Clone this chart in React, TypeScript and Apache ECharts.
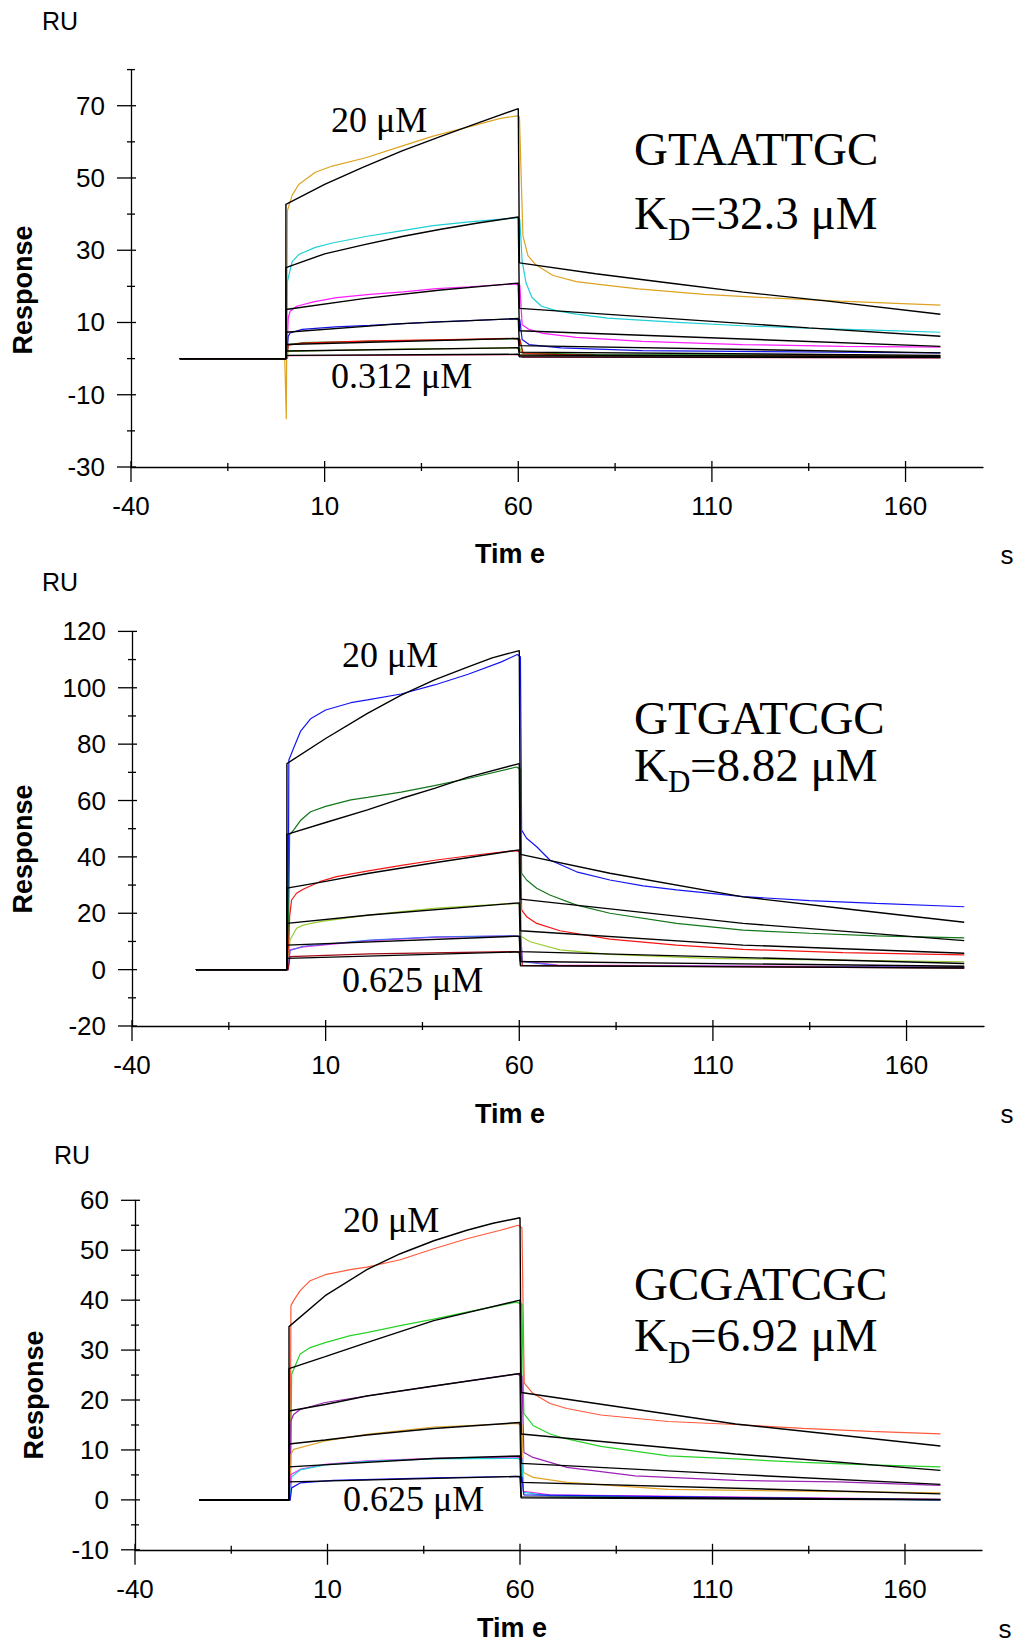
import React, { useEffect, useRef } from "react";
import * as echarts from "echarts";

type Pt = [number, number];

// ---------- tick / label values ----------
const xMajorTicks = [-40, 10, 60, 110, 160];
const xMinorTicks = [-15, 35, 85, 135];
const p1YMajor = [-30, -10, 10, 30, 50, 70];
const p1YMinor = [-20, 0, 20, 40, 60, 80];
const p2YMajor = [-20, 0, 20, 40, 60, 80, 100, 120];
const p2YMinor = [-10, 10, 30, 50, 70, 90, 110];
const p3YMajor = [-10, 0, 10, 20, 30, 40, 50, 60];
const p3YMinor = [-5, 5, 15, 25, 35, 45, 55];

// ---------- panel 1 : GTAATTGC ----------
const p1Orange20: Pt[] = [[-27.4,0],[-0.3,0],[0.1,-16.8],[0.4,41],[1.6,45.2],[3.3,48.2],[7.6,51.6],[12,53.3],[20.6,55.6],[29.3,58.6],[38,61.6],[46.7,64],[55.4,66.5],[59.8,67.2],[60.3,67],[61.2,34],[62.5,28.5],[64.5,26],[69,23],[75,21.3],[83,20.3],[91,19.3],[108,17.8],[125,16.8],[143,15.9],[169,14.8]];
const p1Fit20: Pt[] = [[-27.4,0],[0,0],[0,42.7],[10,48.2],[20,53],[30,57.5],[40,61.5],[50,65.4],[60,69.2],[60.3,26.5],[80,23.5],[100,20.8],[118,18.4],[140,15.9],[169,12.3]];
const p1Cyan10: Pt[] = [[-27.4,0],[0.2,0],[0.4,21.4],[1.6,26.8],[3.3,28.8],[7.6,30.8],[12,32],[20.6,33.8],[29.3,35.3],[38,36.8],[46.7,37.8],[59.8,39],[60.4,38.5],[61,27],[62,21],[63.5,17],[66,14.5],[70,13.2],[75,12.3],[83,11.2],[100,10.1],[118,9.1],[135,8.4],[152,7.9],[169,7.3]];
const p1Fit10: Pt[] = [[-27.4,0],[0,0],[0,25.2],[10,29],[20,31.5],[30,33.8],[40,35.8],[50,37.6],[60,39.2],[60.3,13.9],[135,8.5],[169,6.2]];
const p1Magenta5: Pt[] = [[-27.4,0],[0.2,0],[0.6,11.3],[1.1,13.1],[2.8,14.5],[7.1,15.7],[13.1,16.9],[21.7,17.8],[30.3,18.5],[38.9,19.4],[47.5,19.9],[58.7,20.7],[60.4,20.3],[61,9.4],[62.7,8.1],[66.4,7],[75,5.9],[92,4.8],[118,3.9],[144,3.4],[169,3.2]];
const p1Fit5: Pt[] = [[-27.4,0],[0,0],[0,13.6],[20,16.6],[40,19],[60,20.9],[60.3,7.7],[169,3.4]];
const p1Blue25: Pt[] = [[-27.4,0],[0.2,0],[0.6,6.2],[1.1,7.1],[4.2,8.1],[12.8,8.8],[21.7,9.2],[30.3,9.7],[38.9,10.2],[47.5,10.5],[58.7,11],[60.4,10.8],[61,5.3],[62.8,3.9],[71,3],[92,2.2],[169,1.6]];
const p1Fit25: Pt[] = [[-27.4,0],[0,0],[0,7.3],[30,9.7],[60,11.1],[60.3,3.6],[169,1.6]];
const p1Green125: Pt[] = [[-27.4,0],[0.2,0],[0.6,3.9],[4.2,4.4],[21.7,4.8],[38.9,5.1],[58.7,5.5],[60.4,5.4],[61.2,1.6],[80,1.1],[169,0.8]];
const p1Red125: Pt[] = [[-27.4,0],[0.2,0],[0.6,3.7],[4.2,4.3],[21.7,4.9],[38.9,5.2],[58.7,5.6],[60.4,5.3],[61.2,1.4],[80,0.9],[169,0.6]];
const p1Fit125: Pt[] = [[-27.4,0],[0,0],[0,3.9],[60,5.6],[60.3,1.8],[169,0.9]];
const p1Lime0625: Pt[] = [[-27.4,0],[0.2,0],[0.6,2],[21.7,2.5],[58.7,3],[60.4,2.9],[61.2,0.9],[169,0.4]];
const p1Fit0625: Pt[] = [[-27.4,0],[0,0],[0,2.1],[60,3],[60.3,1],[169,0.5]];
const p1Pink0312: Pt[] = [[-27.4,0],[0.2,0],[0.6,0.8],[58.7,1.1],[60.4,1],[61.2,0.4],[169,0.2]];
const p1Fit0312: Pt[] = [[-27.4,0],[0,0],[0,0.9],[60,1.2],[60.3,0.5],[169,0.3]];

// ---------- panel 2 : GTGATCGC ----------
const p2Blue20: Pt[] = [[-23.5,0],[0.3,0],[0.5,74.4],[1.8,78.8],[3.5,84.5],[6.1,89],[10,92.1],[16.5,94.7],[20.8,95.7],[29.5,97.8],[38.1,101],[46.8,104.8],[55.4,109.2],[59.5,111.8],[60.3,111],[60.6,49.5],[61.9,46.6],[64.5,43.6],[67.9,38.9],[74.8,34.7],[83.4,31.8],[92,29.7],[100.6,28.3],[117.8,25.9],[135,24.5],[152.2,23.5],[174.9,22.3]];
const p2Fit20: Pt[] = [[-23.5,0],[0,0],[0,73.1],[10,82],[20.8,90.9],[29.5,97.4],[38.1,102.8],[46.8,107.4],[53,110.6],[60,113.2],[60.3,40.9],[83.4,34.2],[117.8,25.8],[143.6,21.7],[174.9,16.8]];
const p2Green10: Pt[] = [[-23.5,0],[0.3,0],[0.7,47.8],[1.8,49.7],[3.5,52.9],[6.1,56],[10,57.9],[16.5,60.2],[20.8,61.1],[29.5,63],[38.1,65.3],[46.8,67.8],[59.3,71.9],[60.4,71],[60.6,34.2],[61.9,31.8],[64.5,28.9],[67.9,26.5],[74.8,22.9],[83.4,20],[100.6,16.4],[117.8,14],[135,12.9],[152.2,12],[174.9,11.3]];
const p2Fit10: Pt[] = [[-23.5,0],[0,0],[0,48],[10,52.2],[20.8,56.7],[29.5,60.7],[38.1,64.3],[46.8,68.3],[60,73.1],[60.3,25],[117.8,16.4],[174.9,10.3]];
const p2Red5: Pt[] = [[-23.5,0],[0.3,0],[0.7,18.8],[1.2,24.7],[2.5,27.1],[4.2,28.5],[8.5,31.2],[12.8,33],[21.4,35.1],[30,37.1],[38.6,38.9],[47.2,40.4],[58.8,42.2],[60.4,41.8],[60.6,21.2],[61.9,18.8],[64.5,16.4],[70.5,13.8],[83.4,10.8],[100.6,8.7],[117.8,7.2],[143.6,6],[174.9,5.2]];
const p2Fit5: Pt[] = [[-23.5,0],[0,0],[0,28.9],[10,31.3],[20.8,34.1],[38.1,37.9],[60,42.5],[60.3,13.8],[117.8,8.7],[174.9,5.8]];
const p2Lime25: Pt[] = [[-23.5,0],[0.3,0],[0.8,10.5],[2.5,14.7],[4.2,15.8],[8.5,17],[21.4,19.4],[38.6,21.8],[58.8,23.5],[60.4,23.2],[60.6,11.7],[62.8,9.9],[70.5,7],[83.4,5.4],[109,4],[174.9,2.8]];
const p2Fit25: Pt[] = [[-23.5,0],[0,0],[0,16.4],[21.4,19.4],[60,23.7],[60.3,6.4],[174.9,2.2]];
const p2Magenta125: Pt[] = [[-23.5,0],[0.3,0],[0.8,7],[4.2,8.1],[21.4,10.3],[38.6,11.5],[58.8,11.9],[60.4,11.6],[60.8,3],[70,1.6],[174.9,0.9]];
const p2BlueDot125: Pt[] = [[-23.5,0],[0.3,0],[0.8,6.8],[4.2,8.3],[21.4,10.5],[38.6,11.6],[58.8,12],[60.4,11.7],[60.8,2.8],[70,1.4],[174.9,0.8]];
const p2Fit125: Pt[] = [[-23.5,0],[0,0],[0,8.7],[60,11.9],[60.3,2.9],[174.9,1.2]];
const p2DarkRed0625: Pt[] = [[-23.5,0],[0.3,0],[0.8,4.6],[21.4,5.6],[58.8,6.4],[60.4,6.2],[60.8,1.5],[174.9,0.5]];
const p2Fit0625: Pt[] = [[-23.5,0],[0,0],[0,4],[60,6.3],[60.3,1.4],[174.9,0.6]];

// ---------- panel 3 : GCGATCGC ----------
const p3Red20: Pt[] = [[-23.3,0],[0.3,0],[0.5,38.9],[1.2,39.9],[2.9,41.9],[5.5,43.9],[9.4,45.1],[15.9,46.1],[20.2,46.6],[28.9,48.1],[37.6,50.3],[46.2,52.3],[54.9,54],[59.5,55],[60.5,54.5],[61.1,23.4],[63.4,21.3],[67.8,19.3],[72.2,18.3],[81,17],[98.5,15.7],[116,15.1],[133.5,14.3],[151,13.7],[169.2,13.2]];
const p3Fit20: Pt[] = [[-23.3,0],[0,0],[0,34.7],[9.4,40.9],[20.2,46.1],[28.9,49.3],[37.6,51.9],[46.2,54],[53,55.4],[60,56.5],[60.3,21.5],[116,15.2],[169.2,10.8]];
const p3Green10: Pt[] = [[-23.3,0],[0.3,0],[0.7,25.2],[2.9,29.2],[5.5,30.5],[9.4,31.5],[15.9,32.9],[20.2,33.5],[28.9,34.9],[37.6,36.2],[46.2,37.6],[59,39.6],[60.5,39.2],[61,17.3],[63.4,14.9],[67.8,13.2],[72.2,12.2],[81,10.7],[98.5,8.8],[116,8.2],[133.5,7.5],[151,7],[169.2,6.6]];
const p3Fit10: Pt[] = [[-23.3,0],[0,0],[0,26.3],[9.4,28.7],[20.2,31.5],[37.6,35.9],[60,40],[60.3,13.2],[116,9.2],[169.2,5.9]];
const p3Purple5: Pt[] = [[-23.3,0],[0.3,0],[0.5,15.8],[1.2,17.1],[2.9,18.1],[9.4,19.5],[20.2,20.8],[37.6,22.8],[46.2,23.8],[59,25.2],[60.5,24.8],[61,9.5],[63.4,8.5],[72.2,6.5],[89.9,4.8],[116,3.9],[142.4,3.6],[169.2,2.9]];
const p3Fit5: Pt[] = [[-23.3,0],[0,0],[0,17.8],[9.4,19.1],[20.2,20.8],[37.6,22.8],[60,25.3],[60.3,7.3],[116,5.1],[169.2,3.1]];
const p3Orange25: Pt[] = [[-23.3,0],[0.3,0],[0.5,9.1],[1.2,10.1],[9.4,11.8],[20.2,13.1],[37.6,14.6],[59,15.3],[60.5,15],[60.9,5.5],[63.4,4.5],[72.2,3.5],[98.5,2.1],[169.2,1.4]];
const p3Fit25: Pt[] = [[-23.3,0],[0,0],[0,11.2],[9.4,12],[20.2,13],[37.6,14.3],[60,15.5],[60.3,3.5],[169.2,1.2]];
const p3Magenta125: Pt[] = [[-23.3,0],[0.3,0],[0.5,5.1],[2.9,6.1],[9.4,7.1],[20.2,7.8],[37.6,8.3],[59,8.6],[60.5,8.4],[60.9,1.7],[67.8,1],[169.2,0.1]];
const p3Cyan125: Pt[] = [[-23.3,0],[0.3,0],[0.7,4.6],[2.9,6],[9.4,7],[20.2,7.7],[37.6,8.2],[59,8.3],[60.5,8.1],[60.9,1.5],[67.8,0.8],[169.2,0]];
const p3Fit125: Pt[] = [[-23.3,0],[0,0],[0,6.6],[37.6,8.3],[60,8.8],[60.3,0.6],[169.2,0.1]];
const p3Blue0625: Pt[] = [[-23.3,0],[0.3,0],[0.7,2.4],[2.9,3.4],[11.6,3.9],[37.6,4.4],[59,4.7],[60.5,4.5],[61,1],[169.2,0]];
const p3Fit0625: Pt[] = [[-23.3,0],[0,0],[0,3.6],[60,4.7],[60.3,0.4],[169.2,0]];

// ---------- styling / layout ----------
const SANS = "'Liberation Sans', Arial, Helvetica, sans-serif";
const SERIF = "'Liberation Serif', 'Times New Roman', Times, serif";
const X_MIN = -40;
const X_MAX = 180;

interface Curve { color: string; data: Pt[] }
interface Panel {
  grid: { left: number; top: number; width: number; height: number };
  yMin: number; yMax: number; yInterval: number;
  yMajor: number[]; yMinor: number[];
  measured: Curve[]; fits: Pt[][];
}

const panels: Panel[] = [
  {
    grid: { left: 131, top: 69.6, width: 852, height: 397.4 },
    yMin: -30, yMax: 80, yInterval: 20, yMajor: p1YMajor, yMinor: p1YMinor,
    measured: [
      { color: "#DDA321", data: p1Orange20 },
      { color: "#1FCFD6", data: p1Cyan10 },
      { color: "#FF1EFF", data: p1Magenta5 },
      { color: "#1414E6", data: p1Blue25 },
      { color: "#0A8A0A", data: p1Green125 },
      { color: "#F01010", data: p1Red125 },
      { color: "#84C01A", data: p1Lime0625 },
      { color: "#E0206E", data: p1Pink0312 },
    ],
    fits: [p1Fit20, p1Fit10, p1Fit5, p1Fit25, p1Fit125, p1Fit0625, p1Fit0312],
  },
  {
    grid: { left: 132, top: 631.4, width: 852, height: 394.6 },
    yMin: -20, yMax: 120, yInterval: 20, yMajor: p2YMajor, yMinor: p2YMinor,
    measured: [
      { color: "#1414F5", data: p2Blue20 },
      { color: "#12761A", data: p2Green10 },
      { color: "#F51414", data: p2Red5 },
      { color: "#9ACD32", data: p2Lime25 },
      { color: "#F028E6", data: p2Magenta125 },
      { color: "#4A6CF0", data: p2BlueDot125 },
      { color: "#A00A14", data: p2DarkRed0625 },
    ],
    fits: [p2Fit20, p2Fit10, p2Fit5, p2Fit25, p2Fit125, p2Fit0625],
  },
  {
    grid: { left: 135, top: 1200.3, width: 847, height: 349.5 },
    yMin: -10, yMax: 60, yInterval: 10, yMajor: p3YMajor, yMinor: p3YMinor,
    measured: [
      { color: "#FF5A3C", data: p3Red20 },
      { color: "#28D228", data: p3Green10 },
      { color: "#9A22B4", data: p3Purple5 },
      { color: "#E0A428", data: p3Orange25 },
      { color: "#F028F0", data: p3Magenta125 },
      { color: "#1ECFD6", data: p3Cyan125 },
      { color: "#1414F0", data: p3Blue0625 },
    ],
    fits: [p3Fit20, p3Fit10, p3Fit5, p3Fit25, p3Fit125, p3Fit0625],
  },
];

function tickSeries(i: number, p: Panel) {
  const data: number[][] = [
    ...xMajorTicks.map((v) => [v, 0]),
    ...xMinorTicks.map((v) => [v, 1]),
    ...p.yMajor.map((v) => [v, 2]),
    ...p.yMinor.map((v) => [v, 3]),
  ];
  return {
    type: "custom",
    xAxisIndex: i,
    yAxisIndex: i,
    clip: false,
    silent: true,
    z: 5,
    data,
    renderItem: (_params: any, api: any) => {
      const v = api.value(0);
      const kind = api.value(1);
      const style = { stroke: "#000", lineWidth: 1.3 };
      if (kind === 0 || kind === 1) {
        const c = api.coord([v, p.yMin]);
        const up = kind === 0 ? 6 : 4;
        const down = kind === 0 ? 15 : 4;
        return { type: "line", shape: { x1: c[0], y1: c[1] - up, x2: c[0], y2: c[1] + down }, style };
      }
      const c = api.coord([X_MIN, v]);
      const l = kind === 2 ? 14 : 4;
      const r = kind === 2 ? 5 : 4;
      return { type: "line", shape: { x1: c[0] - l, y1: c[1], x2: c[0] + r, y2: c[1] }, style };
    },
  };
}

function txt(text: string, x: number, y: number, fontSize: number, fontFamily: string, opts: any = {}) {
  return {
    type: "text",
    x,
    y,
    rotation: opts.rotation || 0,
    z: 20,
    style: {
      text,
      fontSize,
      fontFamily,
      fontWeight: opts.bold ? "bold" : "normal",
      fill: "#000",
      align: opts.align || "left",
      verticalAlign: "middle",
    },
  };
}

const BIG = 47;
const graphicElements: any[] = [
  // panel 1
  txt("RU", 42, 21, 25, SANS),
  txt("Response", 23, 290, 27, SANS, { bold: true, rotation: Math.PI / 2, align: "center" }),
  txt("Tim e", 510, 554, 27, SANS, { bold: true, align: "center" }),
  txt("s", 1007, 555, 26, SANS, { align: "center" }),
  txt("20 μM", 331, 120, 36, SERIF),
  txt("0.312 μM", 331, 376, 36, SERIF),
  txt("GTAATTGC", 634, 149, BIG, SERIF),
  txt("K", 634, 213, BIG, SERIF),
  txt("D", 668, 229.5, 31, SERIF),
  txt("=32.3 μM", 690, 213, BIG, SERIF),
  // panel 2
  txt("RU", 42, 582, 25, SANS),
  txt("Response", 23, 849, 27, SANS, { bold: true, rotation: Math.PI / 2, align: "center" }),
  txt("Tim e", 510, 1114, 27, SANS, { bold: true, align: "center" }),
  txt("s", 1007, 1114, 26, SANS, { align: "center" }),
  txt("20 μM", 342, 655, 36, SERIF),
  txt("0.625 μM", 342, 980, 36, SERIF),
  txt("GTGATCGC", 634, 718, BIG, SERIF),
  txt("K", 634, 765, BIG, SERIF),
  txt("D", 668, 781.5, 31, SERIF),
  txt("=8.82 μM", 690, 765, BIG, SERIF),
  // panel 3
  txt("RU", 54, 1155, 25, SANS),
  txt("Response", 34, 1395, 27, SANS, { bold: true, rotation: Math.PI / 2, align: "center" }),
  txt("Tim e", 512, 1628, 27, SANS, { bold: true, align: "center" }),
  txt("s", 1005, 1629, 26, SANS, { align: "center" }),
  txt("20 μM", 343, 1220, 36, SERIF),
  txt("0.625 μM", 343, 1499, 36, SERIF),
  txt("GCGATCGC", 634, 1284, BIG, SERIF),
  txt("K", 634, 1335, BIG, SERIF),
  txt("D", 668, 1352.5, 31, SERIF),
  txt("=6.92 μM", 690, 1335, BIG, SERIF),
];

function buildOption() {
  const series: any[] = [];
  panels.forEach((p, i) => {
    p.measured.forEach((m) => {
      series.push({
        type: "line",
        xAxisIndex: i,
        yAxisIndex: i,
        data: m.data,
        showSymbol: false,
        symbol: "none",
        silent: true,
        z: 2,
        lineStyle: { color: m.color, width: 1.2 },
        itemStyle: { color: m.color },
      });
    });
    p.fits.forEach((f) => {
      series.push({
        type: "line",
        xAxisIndex: i,
        yAxisIndex: i,
        data: f,
        showSymbol: false,
        symbol: "none",
        silent: true,
        z: 3,
        lineStyle: { color: "#000", width: 1.4 },
        itemStyle: { color: "#000" },
      });
    });
    series.push(tickSeries(i, p));
  });

  return {
    animation: false,
    backgroundColor: "#ffffff",
    grid: panels.map((p) => ({ ...p.grid, containLabel: false, outerBoundsMode: "none" })),
    xAxis: panels.map((p, i) => ({
      type: "value",
      gridIndex: i,
      min: X_MIN,
      max: X_MAX,
      interval: 50,
      axisLine: { show: true, onZero: false, lineStyle: { color: "#000", width: 1.3 } },
      axisTick: { show: false },
      minorTick: { show: false },
      splitLine: { show: false },
      axisLabel: {
        show: true,
        margin: 26,
        fontSize: 26,
        color: "#000",
        fontFamily: SANS,
        formatter: (v: number) => (xMajorTicks.includes(v) ? String(v) : ""),
      },
    })),
    yAxis: panels.map((p, i) => ({
      type: "value",
      gridIndex: i,
      min: p.yMin,
      max: p.yMax,
      interval: p.yInterval,
      axisLine: { show: true, onZero: false, lineStyle: { color: "#000", width: 1.3 } },
      axisTick: { show: false },
      minorTick: { show: false },
      splitLine: { show: false },
      axisLabel: {
        show: true,
        margin: 26,
        fontSize: 26,
        color: "#000",
        fontFamily: SANS,
        formatter: (v: number) => (p.yMajor.includes(v) ? String(v) : ""),
      },
    })),
    series,
    graphic: { elements: graphicElements },
  };
}

export default function App() {
  const ref = useRef<HTMLDivElement>(null);
  useEffect(() => {
    if (!ref.current) return;
    const chart = echarts.init(ref.current, undefined, { renderer: "svg" });
    chart.setOption(buildOption() as any);
    return () => chart.dispose();
  }, []);
  return (
    <div
      ref={ref}
      style={{ position: "absolute", left: 0, top: 0, width: 1029, height: 1644, background: "#fff" }}
    />
  );
}
